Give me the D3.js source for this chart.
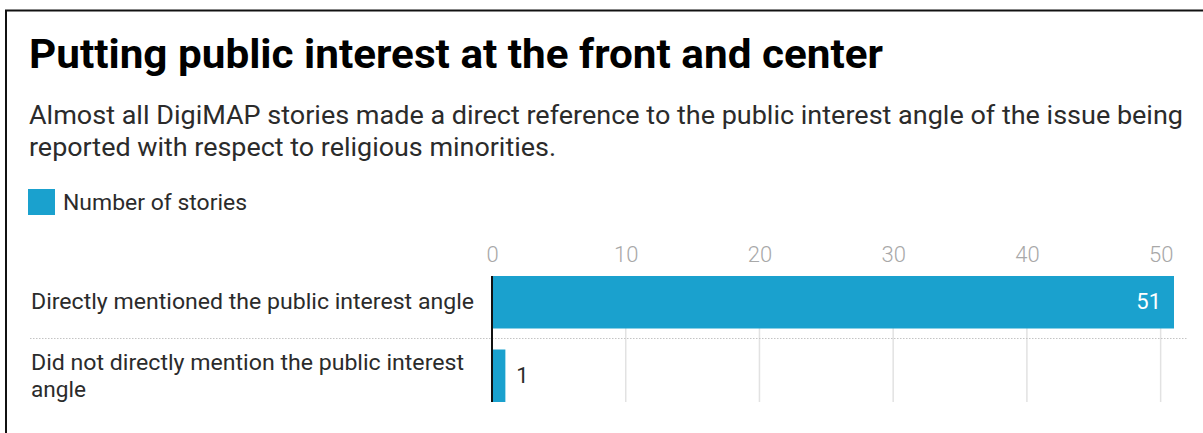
<!DOCTYPE html>
<html><head><meta charset="utf-8">
<script src="https://cdn.jsdelivr.net/npm/d3@7"></script>
<style>html,body{margin:0;padding:0;background:#fff;overflow:hidden}svg{display:block;font-family:Roboto,"Noto Sans",sans-serif}</style>
</head><body><svg id="c" width="1203" height="433"></svg>
<script>
const title = "Putting public interest at the front and center";
const subtitleLines = ["Almost all DigiMAP stories made a direct reference to the public interest angle of the issue being", "reported with respect to religious minorities."];
const seriesName = "Number of stories";
const categories = [["Directly mentioned the public interest angle"], ["Did not directly mention the public interest", "angle"]];
const values = [51, 1];
const tickValues = [0, 10, 20, 30, 40, 50];

const svg = d3.select("#c");
const color = "#1aa1ce";

// fit a text element to a target width (matches the reference's text extents)
function fit(sel, w) {
  sel.each(function () {
    const cur = this.getComputedTextLength();
    if (w && cur > 0) d3.select(this).attr("textLength", w).attr("lengthAdjust", "spacingAndGlyphs");
  });
}

svg.append("rect").attr("x", 6).attr("y", 10.5).attr("width", 1300).attr("height", 600)
  .attr("fill", "none").attr("stroke", "#111").attr("stroke-width", 2);

svg.append("text").attr("x", 29).attr("y", 67.5).attr("font-size", 41).attr("font-weight", 700)
  .attr("fill", "#000").text(title).call(fit, 854);

const subW = [1154, 527];
svg.selectAll("text.sub").data(subtitleLines).join("text").attr("class", "sub")
  .attr("x", 29).attr("y", (d, i) => 123.5 + i * 32.5).attr("font-size", 25).attr("fill", "#2b2b2b").text(d => d)
  .each(function (d, i) { fit(d3.select(this), subW[i]); });

svg.append("rect").attr("x", 28).attr("y", 189).attr("width", 27).attr("height", 26).attr("fill", color);
svg.append("text").attr("x", 63).attr("y", 209.5).attr("font-size", 22.5).attr("fill", "#2b2b2b").text(seriesName).call(fit, 184);

const x = d3.scaleLinear().domain([0, 51]).range([492, 1174]);

// gridlines
svg.append("g").selectAll("line").data(tickValues.slice(1)).join("line")
  .attr("x1", d => x(d)).attr("x2", d => x(d)).attr("y1", 276).attr("y2", 402)
  .attr("stroke", "#e2e2e2").attr("stroke-width", 1.5);

// tick labels via axis
const ax = svg.append("g").attr("transform", "translate(0,262)")
  .call(d3.axisTop(x).tickValues(tickValues).tickSize(0).tickPadding(0));
ax.select(".domain").remove();
ax.selectAll("text").attr("font-size", 22).attr("fill", "#a8a8a8").attr("font-family", "Roboto").attr("font-weight", 300).attr("dy", 0);

// separator
svg.append("line").attr("x1", 30).attr("x2", 1187).attr("y1", 338.5).attr("y2", 338.5)
  .attr("stroke", "#c4c4c4").attr("stroke-width", 1).attr("stroke-dasharray", "1.5,1.5");

// bars
const barY = [276, 349.5];
const barH = 52.5;
svg.append("g").selectAll("rect").data(values).join("rect")
  .attr("x", x(0)).attr("y", (d, i) => barY[i]).attr("width", d => x(d) - x(0)).attr("height", barH)
  .attr("fill", color);

// zero line
svg.append("line").attr("x1", x(0)).attr("x2", x(0)).attr("y1", 276).attr("y2", 402)
  .attr("stroke", "#111").attr("stroke-width", 2);

// value labels
const valBase = [308.5, 382.5];
svg.append("g").selectAll("text").data(values).join("text")
  .attr("x", d => d > 5 ? x(d) - 13 : x(d) + 11)
  .attr("y", (d, i) => valBase[i])
  .attr("text-anchor", d => d > 5 ? "end" : "start")
  .attr("font-size", 22).attr("fill", d => d > 5 ? "#fff" : "#2b2b2b").text(d => d);

// category labels
const lineOffsets = [[309], [370, 396.5]];
const lineW = [[443], [433, 55]];
categories.forEach((lines, i) => {
  svg.selectAll(null).data(lines).join("text").attr("x", 31).attr("y", (d, j) => lineOffsets[i][j])
    .attr("font-size", 22).attr("fill", "#2b2b2b").text(d => d)
    .each(function (d, j) { fit(d3.select(this), lineW[i][j]); });
});
</script></body></html>
